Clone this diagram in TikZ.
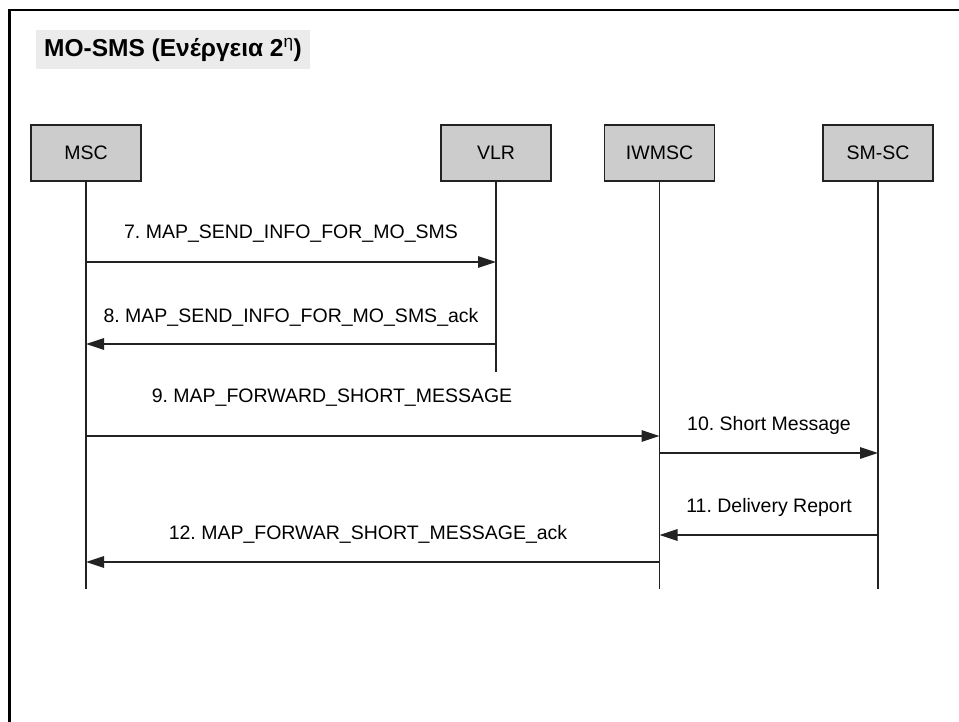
\documentclass[tikz,border=0pt]{standalone}
\usepackage{fontspec}
\setmainfont{Liberation Sans}
\usetikzlibrary{arrows.meta}
\definecolor{boxgray}{HTML}{CCCCCC}
\definecolor{titlegray}{HTML}{EBEBEB}
\definecolor{linegray}{HTML}{222222}
\begin{document}
\frenchspacing
\begin{tikzpicture}[x=1pt,y=-1pt,
  entity/.style={draw=linegray,fill=boxgray,line width=1.2pt,minimum width=110pt,minimum height=56pt,inner sep=0pt,font=\fontsize{19.5}{23}\selectfont},
  life/.style={draw=linegray,line width=1.4pt},
  msg/.style={draw=linegray,line width=1.4pt,-{Triangle[length=18pt,width=11.5pt]}},
  lbl/.style={inner sep=0pt,font=\fontsize{19.5}{23}\selectfont}]
\useasboundingbox (0,0) rectangle (959,722);
% frame
\draw[line width=2.6pt] (9.3,724) -- (9.3,10) -- (962,10);
% title
\node[fill=titlegray,anchor=west,inner xsep=8pt,minimum height=39pt,font=\fontsize{24.5}{28}\selectfont\bfseries] (title) at (36,49.5) {MO-SMS (Ενέργεια 2\textsuperscript{\mdseries η})};
% entities
\node[entity] (msc) at (86,153) {MSC};
\node[entity] (vlr) at (496,153) {VLR};
\node[entity] (iwmsc) at (659.5,153) {IWMSC};
\node[entity] (smsc) at (878,153) {SM-SC};
% lifeline ends
\coordinate (mscE) at (86,589);
\coordinate (vlrE) at (496,372);
\coordinate (iwE) at (659.5,589);
\coordinate (smE) at (878,589);
\draw[life] (msc.south) -- (mscE);
\draw[life] (vlr.south) -- (vlrE);
\draw[life] (iwmsc.south) -- (iwE);
\draw[life] (smsc.south) -- (smE);
% messages
\draw[msg] (msc.south |- 0,262) -- (vlr.south |- 0,262);
\draw[msg] (vlr.south |- 0,344) -- (msc.south |- 0,344);
\draw[msg] (msc.south |- 0,436) -- (iwmsc.south |- 0,436);
\draw[msg] (iwmsc.south |- 0,453) -- (smsc.south |- 0,453);
\draw[msg] (smsc.south |- 0,535) -- (iwmsc.south |- 0,535);
\draw[msg] (iwmsc.south |- 0,562) -- (msc.south |- 0,562);
% labels
\node[lbl] (l7) at (291,234) {7. MAP\_SEND\_INFO\_FOR\_MO\_SMS};
\node[lbl] (l8) at (291,317) {8. MAP\_SEND\_INFO\_FOR\_MO\_SMS\_ack};
\node[lbl] (l9) at (332,398) {9. MAP\_FORWARD\_SHORT\_MESSAGE};
\node[lbl] (l10) at (769,425) {10. Short Message};
\node[lbl] (l11) at (769,507) {11. Delivery Report};
\node[lbl] (l12) at (368,534) {12. MAP\_FORWAR\_SHORT\_MESSAGE\_ack};
\end{tikzpicture}
\end{document}
